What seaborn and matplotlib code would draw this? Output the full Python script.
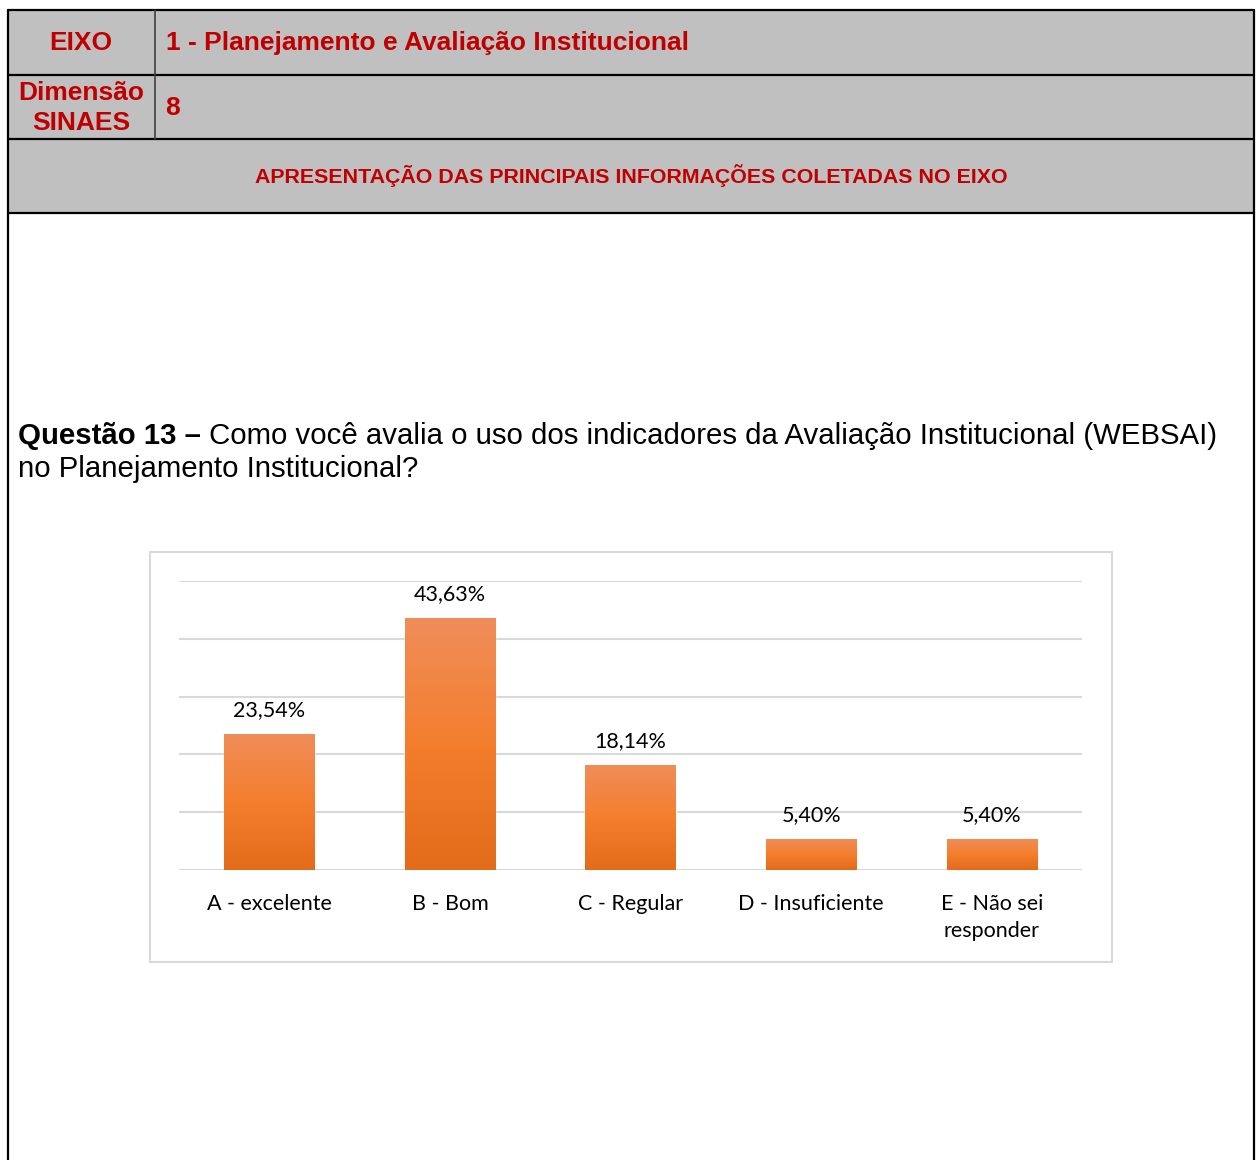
import numpy as np
import pandas as pd
import matplotlib
matplotlib.use("Agg")
from matplotlib import pyplot as plt
from matplotlib.patches import Rectangle
from matplotlib.colors import LinearSegmentedColormap
import seaborn as sns

# chart data
categories = ["A - excelente", "B - Bom", "C - Regular", "D - Insuficiente", "E - Não sei\nresponder"]
values = [23.54, 43.63, 18.14, 5.40, 5.40]
value_labels = ["23,54%", "43,63%", "18,14%", "5,40%", "5,40%"]

eixo_title = "1 - Planejamento e Avaliação Institucional"
dimensao = "8"
section_title = "APRESENTAÇÃO DAS PRINCIPAIS INFORMAÇÕES COLETADAS NO EIXO"
question_bold = "Questão 13 –"
question_rest = " Como você avalia o uso dos indicadores da Avaliação Institucional (WEBSAI)"
question_line2 = "no Planejamento Institucional?"

W, H = 1258, 1160
RED = "#c00000"
GRAY = "#c0c0c0"

sns.set_theme(style="white")
plt.rcParams["font.family"] = ["Liberation Sans", "DejaVu Sans"]

fig = plt.figure(figsize=(W / 100, H / 100), dpi=100)
fig.patch.set_facecolor("white")


def fx(x):
    return x / W


def fy(y):
    return 1 - y / H


def frect(x0, y0, x1, y1, **kw):
    fig.add_artist(Rectangle((fx(x0), fy(y1)), fx(x1) - fx(x0), fy(y0) - fy(y1),
                             transform=fig.transFigure, **kw))


def fline(xs, ys, **kw):
    fig.add_artist(plt.Line2D([fx(x) for x in xs], [fy(y) for y in ys],
                              transform=fig.transFigure, **kw))


# header table
frect(8, 10, 1254, 213, facecolor=GRAY, edgecolor="none", zorder=-2)
for yy in [10, 75, 139, 213]:
    fline([8, 1254], [yy, yy], color="black", lw=1.6)
fline([8, 8], [10, 1160], color="black", lw=1.6)
fline([1254, 1254], [10, 1160], color="black", lw=1.6)
fline([155, 155], [10, 139], color="#404040", lw=1.2)

fig.text(fx(81), fy(43), "EIXO", color=RED, fontsize=19, fontweight="bold", ha="center", va="center")
fig.text(fx(166), fy(43), eixo_title, color=RED, fontsize=19, fontweight="bold", ha="left", va="center")
fig.text(fx(81), fy(93), "Dimensão", color=RED, fontsize=19, fontweight="bold", ha="center", va="center")
fig.text(fx(81), fy(123), "SINAES", color=RED, fontsize=19, fontweight="bold", ha="center", va="center")
fig.text(fx(165), fy(108), dimensao, color=RED, fontsize=19, fontweight="bold", ha="left", va="center")
fig.text(fx(631), fy(176), section_title, color=RED, fontsize=15.4, fontweight="bold", ha="center", va="center")

# question text
t1 = fig.text(fx(18), fy(436), question_bold, fontsize=21.2, fontweight="bold", ha="left", va="center", color="black")
renderer = fig.canvas.get_renderer()
bb = t1.get_window_extent(renderer=renderer)
fig.text(bb.x1 / W, fy(436), question_rest, fontsize=21.2, ha="left", va="center", color="black")
fig.text(fx(18), fy(469), question_line2, fontsize=21.2, ha="left", va="center", color="black")

# chart frame
frect(150, 552, 1112, 962, facecolor="white", edgecolor="#d9d9d9", lw=1.5, zorder=-1)

ax = fig.add_axes([fx(179), fy(870), fx(1082) - fx(179), fy(581) - fy(870)])
df = pd.DataFrame({"categoria": categories, "valor": values})
sns.barplot(data=df, x="categoria", y="valor", color="#f07f2e", width=0.5, ax=ax, zorder=3)

ax.set_ylim(0, 50)
ax.set_xlim(-0.5, len(categories) - 0.5)
ax.set_yticks(np.arange(0, 51, 10))
ax.yaxis.grid(True, color="#d9d9d9", lw=1.5, zorder=0)
ax.set_axisbelow(True)
ax.tick_params(axis="y", left=False, labelleft=False)
ax.tick_params(axis="x", bottom=False, pad=11)
for s in ax.spines.values():
    s.set_visible(False)
ax.set_xlabel("")
ax.set_ylabel("")
ax.patch.set_alpha(0)

cmap = LinearSegmentedColormap.from_list("orng", ["#e36c1b", "#f47e2e", "#f08d5a"])
grad = np.linspace(0, 1, 256).reshape(-1, 1)
for p, lab in zip(ax.patches, value_labels):
    x0, w, h = p.get_x(), p.get_width(), p.get_height()
    im = ax.imshow(grad, cmap=cmap, aspect="auto", origin="lower",
                   extent=[x0, x0 + w, 0, h], zorder=4)
    im.set_clip_path(p)
    ax.annotate(lab, (x0 + w / 2, h), xytext=(0, 10), textcoords="offset points",
                ha="center", va="bottom", fontsize=15.5, family=["Lato", "DejaVu Sans"], color="black")
ax.set_xlim(-0.5, len(categories) - 0.5)
ax.set_ylim(0, 50)

for lbl in ax.get_xticklabels():
    lbl.set_family(["Lato", "DejaVu Sans"])
    lbl.set_fontsize(15.5)
    lbl.set_verticalalignment("top")
    lbl.set_linespacing(1.45)
    lbl.set_color("black")

fig.savefig("out.png", dpi=100)
